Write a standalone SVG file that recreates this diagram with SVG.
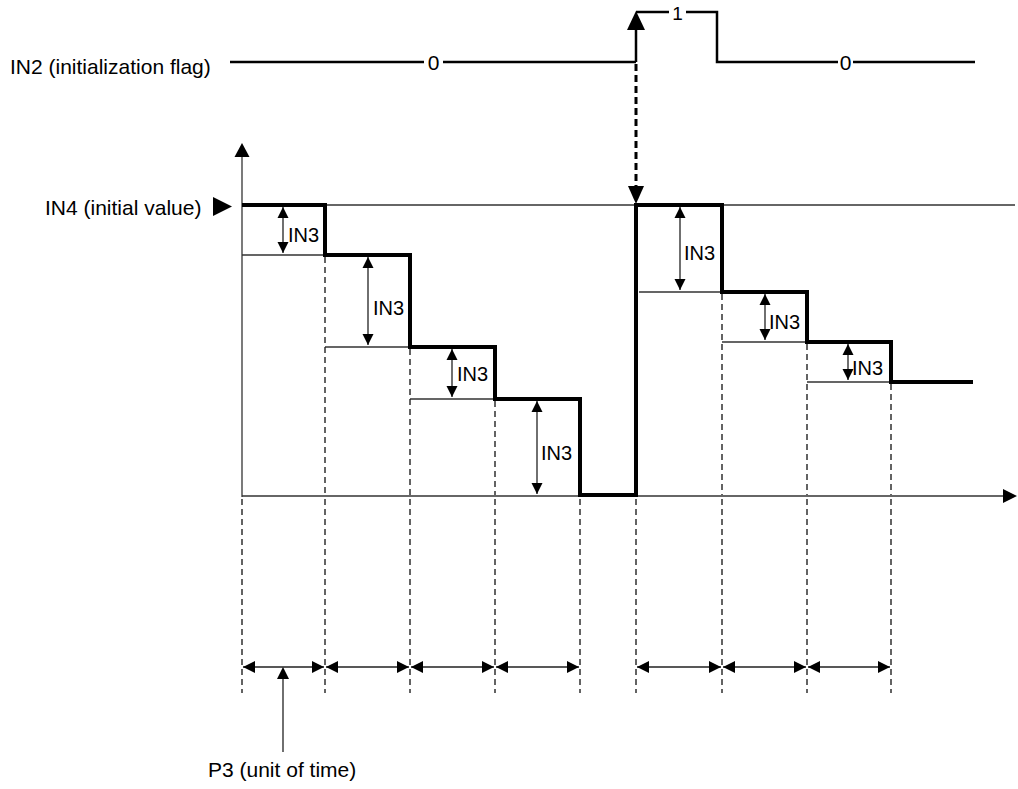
<svg xmlns="http://www.w3.org/2000/svg" width="1018" height="789" viewBox="0 0 1018 789">
<defs>
<style>
text{font-family:"Liberation Sans",Arial,sans-serif;fill:#000}
.lbl{font-size:21px}
.in3{font-size:20px}
.sig{fill:none;stroke:#000;stroke-width:2.5}
.step{fill:none;stroke:#000;stroke-width:4;stroke-linejoin:miter}
.thin{stroke:#333;stroke-width:1.3;fill:none}
.dash{stroke:#222;stroke-width:1.4;stroke-dasharray:6 4;fill:none}
.dim{stroke:#222;stroke-width:1.3;fill:none}
</style>
<marker id="ah" viewBox="0 0 10 10" refX="10" refY="5" markerWidth="11" markerHeight="12" markerUnits="userSpaceOnUse" orient="auto-start-reverse">
<path d="M0,0 L10,5 L0,10 z" fill="#000"/>
</marker>
</defs>
<rect width="1018" height="789" fill="#fff"/>

<g id="labels">
<text class="lbl" x="10" y="74">IN2 (initialization flag)</text>
<text class="lbl" x="45" y="215">IN4 (initial value)</text>
<path d="M213,197 L213,216 L232,206.5 z" fill="#000"/>
<text class="lbl" x="208" y="777">P3 (unit of time)</text>
</g>

<g id="in2-signal">
<path class="sig" d="M230,62 H424 M443,62 H636 M636,62 V28 M636,12 H669 M686,12 H717 V62 H838 M853,62 H975"/>
<path d="M627,30 L645,30 L636,11 z" fill="#000"/>
<text class="lbl" x="433.5" y="70" text-anchor="middle">0</text>
<text x="677.5" y="20" text-anchor="middle" font-size="19">1</text>
<text class="lbl" x="845.5" y="70" text-anchor="middle">0</text>
</g>

<g id="axes">
<path class="thin" d="M242,157 V497" stroke="#222" stroke-width="1.6"/>
<path d="M234.5,157 L249.5,157 L242,143 z" fill="#000"/>
<path class="thin" d="M242,496 H1003" stroke="#222" stroke-width="1.6"/>
<path d="M1003,489 L1003,503 L1017,496 z" fill="#000"/>
</g>

<g id="reference-lines">
<path class="thin" d="M242,205 H1015"/>
<path class="thin" d="M242,255 H325 M325,347 H410 M410,399 H495 M639,292 H722 M722,342 H807 M807,382 H891"/>
</g>

<g id="dashed-guides">
<path class="dash" d="M325,257 V495 M410,349 V495 M495,401 V495 M722,294 V495 M807,344 V495 M891,384 V495"/>
<path class="dash" d="M242,499 V693 M325,499 V693 M410,499 V693 M495,499 V693 M580,499 V693 M636,499 V693 M722,499 V693 M807,499 V693 M891,499 V693"/>
</g>

<g id="step-output">
<path class="step" d="M242,205 H325 V255 H410 V347 H495 V399 H580 V495 H636 V205 H722 V292 H807 V342 H891 V382 H973"/>
</g>

<g id="init-trigger">
<path d="M636,64 V186" stroke="#000" stroke-width="3" stroke-dasharray="7 4" fill="none"/>
<path d="M628,186 L644,186 L636,204 z" fill="#000"/>
</g>

<g id="in3-dims">
<path class="dim" d="M283,207 V253" marker-start="url(#ah)" marker-end="url(#ah)"/>
<text class="in3" x="288" y="242">IN3</text>
<path class="dim" d="M368,257 V345" marker-start="url(#ah)" marker-end="url(#ah)"/>
<text class="in3" x="373" y="315">IN3</text>
<path class="dim" d="M452,349 V397" marker-start="url(#ah)" marker-end="url(#ah)"/>
<text class="in3" x="457" y="381">IN3</text>
<path class="dim" d="M537,401 V494" marker-start="url(#ah)" marker-end="url(#ah)"/>
<text class="in3" x="541" y="460">IN3</text>
<path class="dim" d="M680,207 V290" marker-start="url(#ah)" marker-end="url(#ah)"/>
<text class="in3" x="684" y="260">IN3</text>
<path class="dim" d="M765,294 V340" marker-start="url(#ah)" marker-end="url(#ah)"/>
<text class="in3" x="769" y="329">IN3</text>
<path class="dim" d="M848,344 V380" marker-start="url(#ah)" marker-end="url(#ah)"/>
<text class="in3" x="852" y="375">IN3</text>
</g>

<g id="p3-dims">
<path class="dim" d="M243,667 H324 M326,667 H409 M411,667 H494 M496,667 H579 M637,667 H721 M723,667 H806 M808,667 H890" stroke="#000"/>
<path d="M243,667 l12,-6 v12 z M324,667 l-12,-6 v12 z M326,667 l12,-6 v12 z M409,667 l-12,-6 v12 z M411,667 l12,-6 v12 z M494,667 l-12,-6 v12 z M496,667 l12,-6 v12 z M579,667 l-12,-6 v12 z M637,667 l12,-6 v12 z M721,667 l-12,-6 v12 z M723,667 l12,-6 v12 z M806,667 l-12,-6 v12 z M808,667 l12,-6 v12 z M890,667 l-12,-6 v12 z" fill="#000"/>
<path class="dim" d="M283,679 V752" stroke="#000"/>
<path d="M283,667 l-6,12 h12 z" fill="#000"/>
</g>
</svg>
